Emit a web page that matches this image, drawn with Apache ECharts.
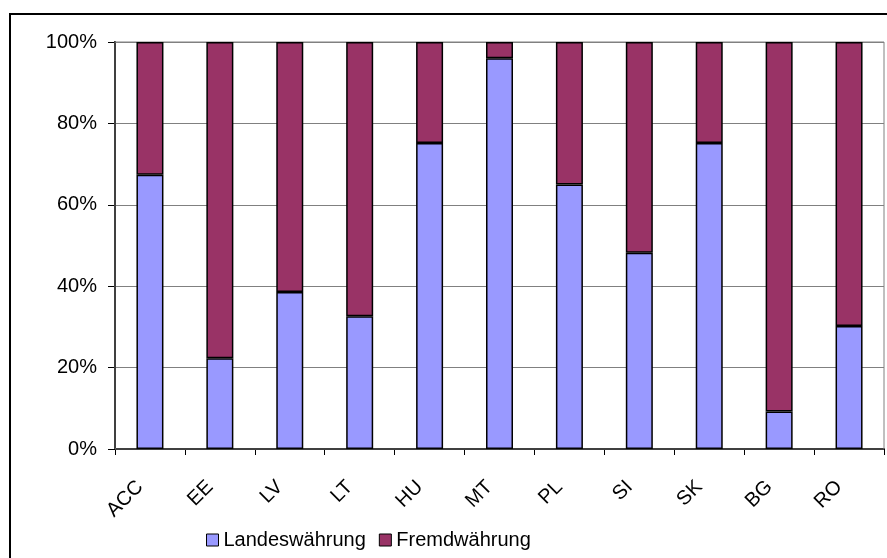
<!DOCTYPE html>
<html>
<head>
<meta charset="utf-8">
<script src="https://cdn.jsdelivr.net/npm/echarts@6/dist/echarts.min.js"></script>
<style>
  html, body { margin: 0; padding: 0; background: #ffffff; }
  #chart { width: 887px; height: 558px; }
</style>
</head>
<body>
<div id="chart"></div>
<script>
// Country codes along the x axis
var categories = ['ACC', 'EE', 'LV', 'LT', 'HU', 'MT', 'PL', 'SI', 'SK', 'BG', 'RO'];
// Share of lending in domestic currency (%)
var landeswaehrung = [67.4, 22.3, 38.6, 32.6, 75.2, 96.0, 65.0, 48.2, 75.2, 9.2, 30.2];
// Share of lending in foreign currency (%)
var fremdwaehrung = [32.6, 77.7, 61.4, 67.4, 24.8, 4.0, 35.0, 51.8, 24.8, 90.8, 69.8];
// Value axis ticks
var yTicks = [0, 20, 40, 60, 80, 100];

var FONT = '"Liberation Sans", Arial, sans-serif';

var chart = echarts.init(document.getElementById('chart'), null, { renderer: 'canvas' });

chart.setOption({
  animation: false,
  backgroundColor: '#ffffff',
  grid: { left: 115, right: 3, top: 42, bottom: 109, containLabel: false },
  graphic: [
    {
      type: 'rect',
      shape: { x: 10, y: 14, width: 900, height: 600 },
      style: { fill: 'none', stroke: '#000000', lineWidth: 2 },
      z: 0
    },
    {
      type: 'rect',
      shape: { x: 115, y: 42, width: 769, height: 407 },
      style: { fill: 'none', stroke: '#808080', lineWidth: 1 },
      z: 1
    }
  ],
  legend: {
    data: ['Landeswährung', 'Fremdwährung'],
    left: 206,
    top: 530,
    padding: 0,
    icon: 'rect',
    itemWidth: 12,
    itemHeight: 12,
    itemGap: 13,
    textStyle: { fontFamily: FONT, fontSize: 20, color: '#000000' },
    itemStyle: { borderColor: '#000000', borderWidth: 1 }
  },
  xAxis: {
    type: 'category',
    data: categories,
    boundaryGap: true,
    axisLine: { show: true, lineStyle: { color: '#000000', width: 2 } },
    axisTick: { show: true, alignWithLabel: false, length: 6, lineStyle: { color: '#000000' } },
    axisLabel: {
      rotate: 45,
      interval: 0,
      margin: 25,
      padding: [0, 14, 0, 0],
      fontFamily: FONT,
      fontSize: 20,
      color: '#000000'
    },
    splitLine: { show: false }
  },
  yAxis: {
    type: 'value',
    min: yTicks[0],
    max: yTicks[yTicks.length - 1],
    interval: 20,
    axisLine: { show: true, lineStyle: { color: '#000000', width: 2 } },
    axisTick: { show: true, inside: false, length: 7, lineStyle: { color: '#000000' } },
    axisLabel: {
      margin: 18,
      fontFamily: FONT,
      fontSize: 20,
      color: '#000000',
      formatter: function (v) { return v + '%'; }
    },
    splitLine: { show: true, lineStyle: { color: '#808080', width: 1 } }
  },
  series: [
    {
      name: 'Landeswährung',
      type: 'bar',
      stack: 'share',
      data: landeswaehrung,
      barWidth: 27,
      itemStyle: { color: '#9999ff', borderColor: '#000000', borderWidth: 1.5 }
    },
    {
      name: 'Fremdwährung',
      type: 'bar',
      stack: 'share',
      data: fremdwaehrung,
      barWidth: 27,
      itemStyle: { color: '#993366', borderColor: '#000000', borderWidth: 1.5 }
    }
  ]
});
</script>
</body>
</html>
